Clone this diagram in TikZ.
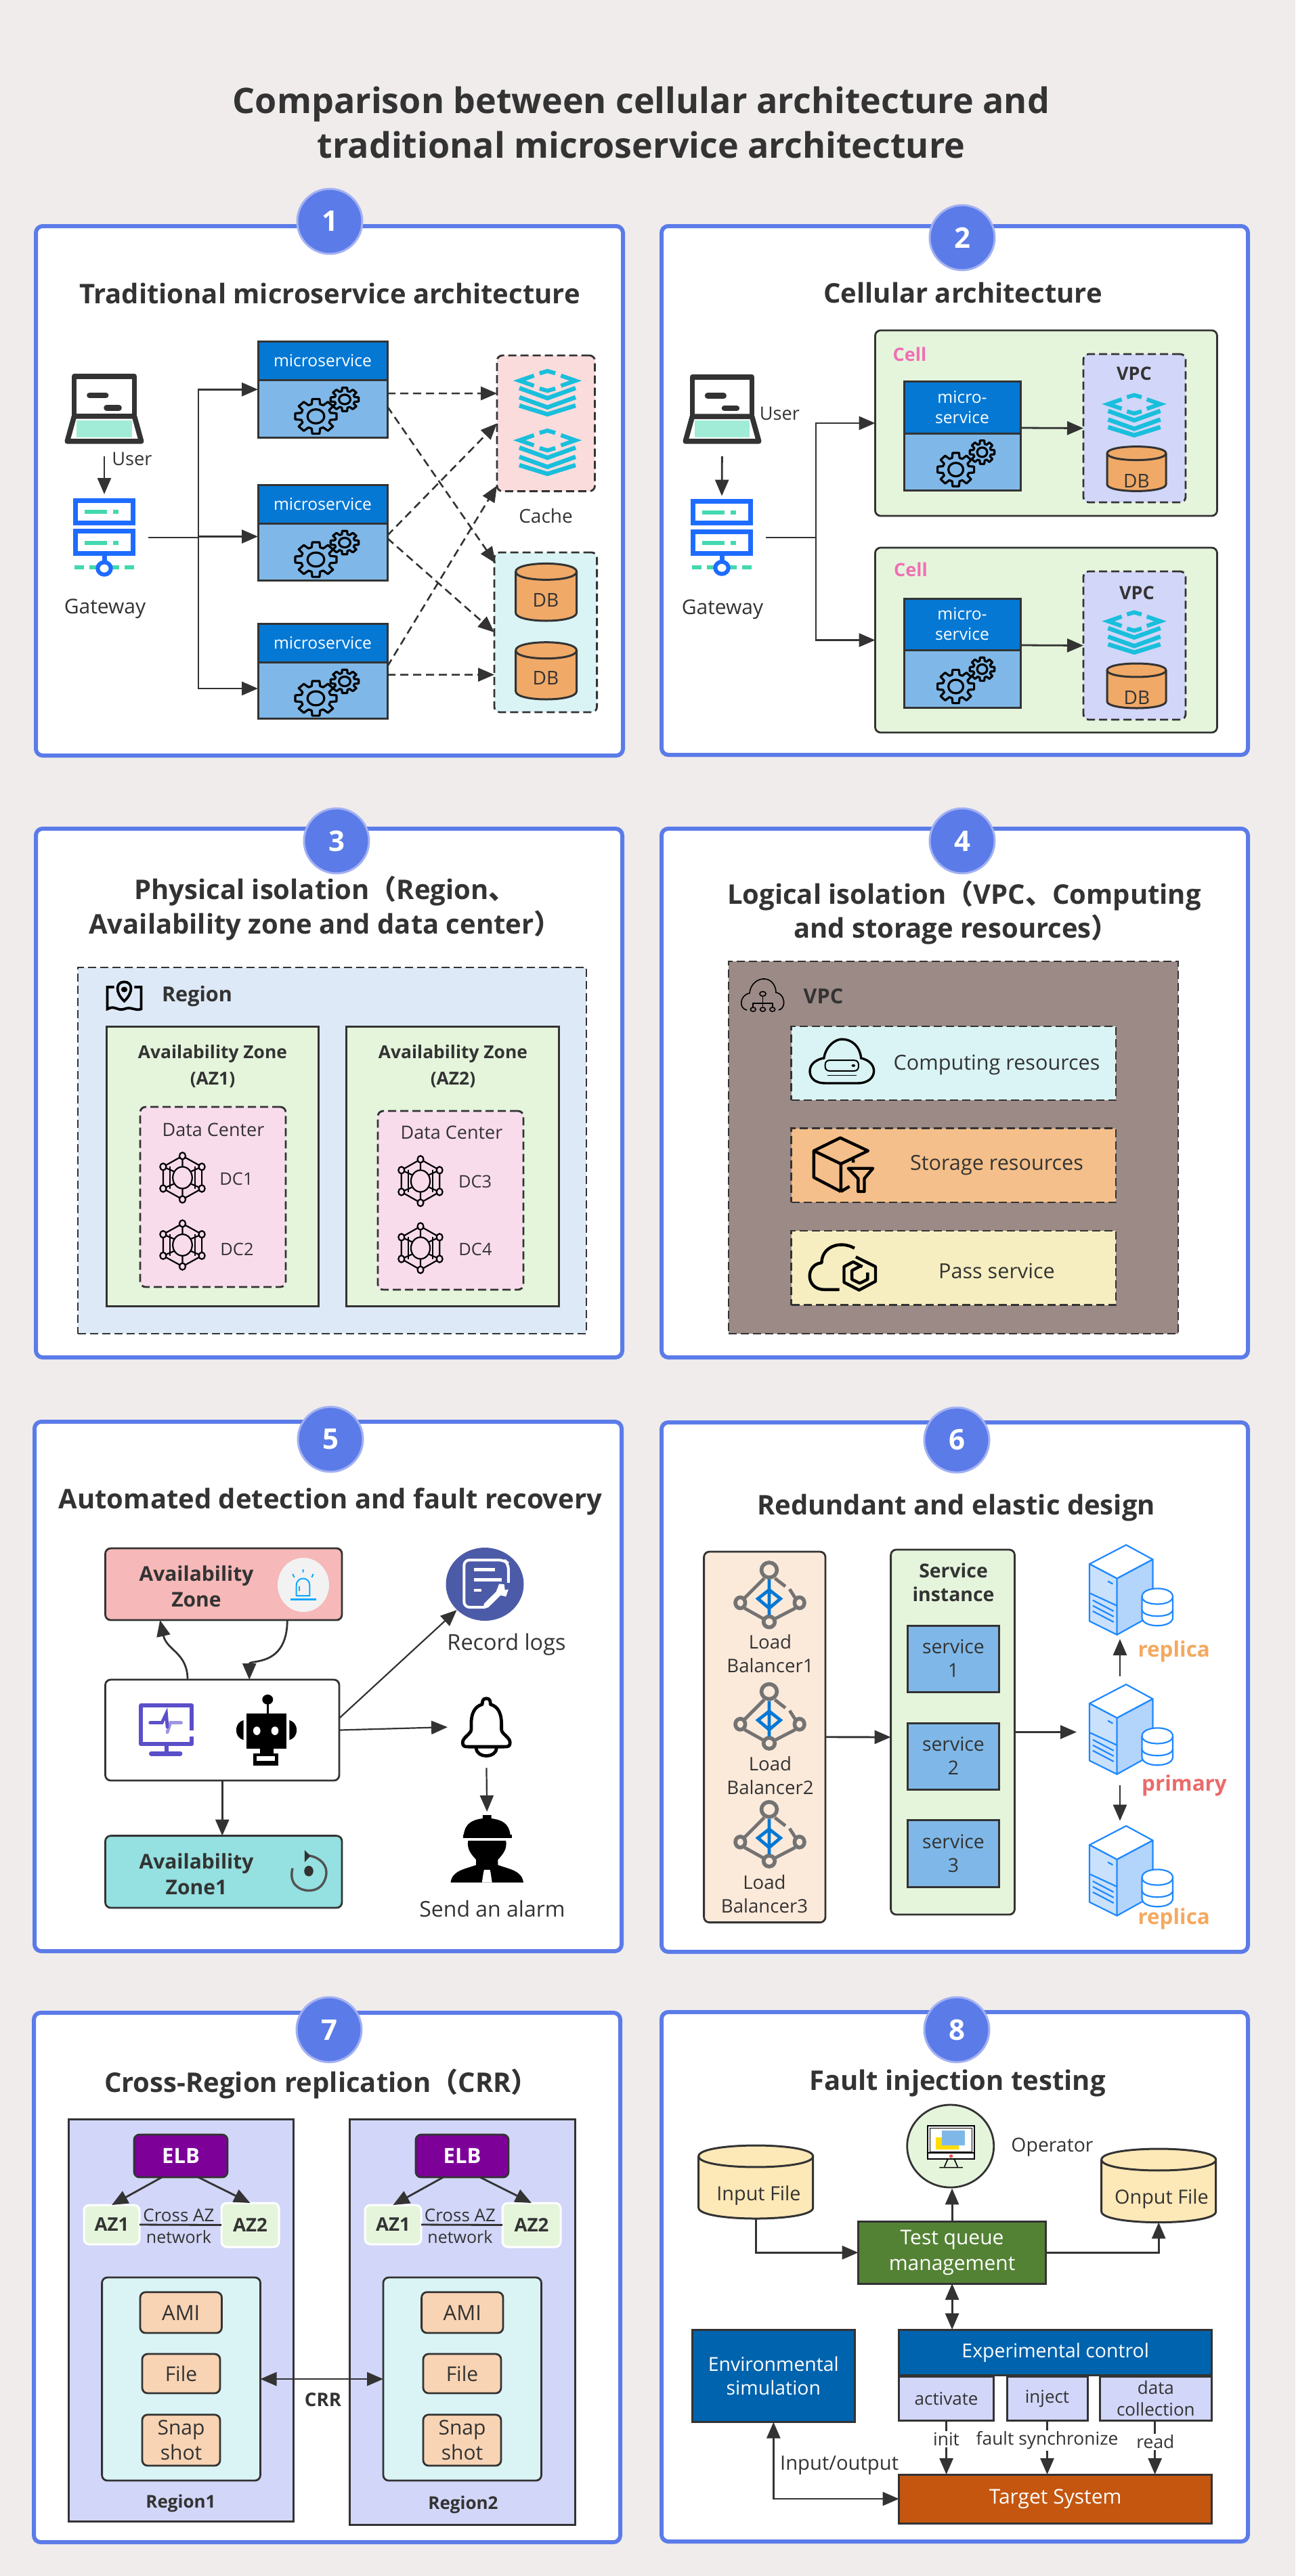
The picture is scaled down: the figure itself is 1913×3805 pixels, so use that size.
\documentclass[tikz,border=0pt]{standalone}
\usepackage{fontspec}
\setmainfont{Open Sans}
\newfontfamily\cjkfont{Noto Sans CJK SC}
\usetikzlibrary{arrows.meta,shapes.geometric,calc}
\definecolor{bgc}{HTML}{EFECEB}
\definecolor{framec}{HTML}{5B7BE8}
\definecolor{badgeedge}{HTML}{A3B1F2}
\definecolor{ink}{HTML}{333333}
\definecolor{hdrc}{HTML}{0578D4}
\definecolor{bodyc}{HTML}{7FB8E8}
\definecolor{cachec}{HTML}{FADCDC}
\definecolor{tealc}{HTML}{DAF4F5}
\definecolor{dbc}{HTML}{F0A967}
\definecolor{greenc}{HTML}{E5F5DC}
\definecolor{lavc}{HTML}{D2D6F8}
\definecolor{regionc}{HTML}{DDE9F6}
\definecolor{dcc}{HTML}{F9DCEC}
\definecolor{vpcc}{HTML}{9C8A86}
\definecolor{storc}{HTML}{F4BF8A}
\definecolor{passc}{HTML}{F6EEC0}
\definecolor{pinkc}{HTML}{EF6FB5}
\definecolor{azred}{HTML}{F6B8B8}
\definecolor{azteal}{HTML}{95E0E0}
\definecolor{logc}{HTML}{4C5BA8}
\definecolor{lbbg}{HTML}{FBE9DA}
\definecolor{orangec}{HTML}{F4A960}
\definecolor{redc}{HTML}{EA6B6B}
\definecolor{elbc}{HTML}{7D0099}
\definecolor{peach}{HTML}{F8D4B4}
\definecolor{filec}{HTML}{FDE8B7}
\definecolor{tqc}{HTML}{548235}
\definecolor{envc}{HTML}{0063AD}
\definecolor{tgtc}{HTML}{C4560F}
\definecolor{cyanc}{HTML}{19BFDC}
\definecolor{gwblue}{HTML}{1E6CFF}
\definecolor{gwgreen}{HTML}{43D9B0}
\definecolor{purplec}{HTML}{5B4FC9}
\definecolor{srvblue}{HTML}{1E88FF}
\definecolor{srvfill}{HTML}{B3D4FB}
\newcounter{tn}
\tikzset{
 panel/.style={draw=framec,line width=3pt,fill=white,rounded corners=5pt},
 badge/.style={circle,draw=badgeedge,line width=1.5pt,fill=framec,text=white},
 f/.style n args={2}{font=\fontsize{#1}{#2}\selectfont},
 fb/.style n args={2}{font=\fontsize{#1}{#2}\selectfont\bfseries},
 sbox/.style={draw=ink,line width=1.5pt},
 dbox/.style={draw=ink,line width=1.4pt,dash pattern=on 6pt off 3pt},
 rbox/.style={draw=ink,line width=1.4pt,rounded corners=4pt},
 arr/.style={-{Triangle[length=12pt,width=10pt]},line width=1.4pt,draw=ink},
 dbl/.style={{Triangle[length=12pt,width=10pt]}-{Triangle[length=12pt,width=10pt]},line width=1.4pt,draw=ink},
 darr/.style={-{Triangle[length=12pt,width=10pt]},line width=1.3pt,draw=ink,dash pattern=on 6pt off 3.5pt},
 wire/.style={line width=1.4pt,draw=ink},
 gearl/.style={draw=black,line width=1.6pt,line join=round},
 ic/.style n args={4}{shift={(#1,#2)},xscale={(#3-#1)/100},yscale={(#4-#2)/100}},
}
\newcommand\bx[7]{%
 \pgfmathsetmacro\bxW{(#5-#3)*0.5}\pgfmathsetmacro\bxH{(#6-#4)*0.5}%
 \pgfmathsetmacro\bxX{(#3+#5)/2}\pgfmathsetmacro\bxY{(#4+#6)/2}%
 \node[minimum width=\bxW pt,minimum height=\bxH pt,inner sep=0pt,outer sep=0pt,align=center,text=ink,#2] (#1) at (\bxX,\bxY) {#7};}
\newcommand\tx[4]{\stepcounter{tn}\node[inner sep=0pt,align=center,text=ink,#1] (t\arabic{tn}) at (#2,#3) {#4};}
\newcommand\gear[4]{\begin{scope}[shift={(#1,#2)},xscale=#3,yscale=#4]
 \draw[gearl] (-16:.72) \foreach \a in {0,45,...,315}{ -- ({\a-16}:.72) -- ({\a-10}:1) -- ({\a+10}:1) -- ({\a+16}:.72)} -- cycle;
 \draw[gearl] (0,0) circle[radius=.4];
 \end{scope}}
\newcommand\cyl[7]{% name x1 y1 x2 y2 e fill
 \bx{#1}{}{#2}{#3}{#4}{#5}{}
 \draw[draw=ink,line width=1.5pt,fill=#7] (#2,{#3+#6}) -- (#2,{#5-#6}) .. controls (#2,{#5+#6/3}) and (#4,{#5+#6/3}) .. (#4,{#5-#6}) -- (#4,{#3+#6}) .. controls (#4,{#3-#6/3}) and (#2,{#3-#6/3}) .. (#2,{#3+#6}) -- cycle;
 \draw[draw=ink,line width=1.5pt] (#2,{#3+#6}) .. controls (#2,{#3+#6*2.33}) and (#4,{#3+#6*2.33}) .. (#4,{#3+#6});}
\newcommand\icLaptop[4]{\begin{scope}[ic={#1}{#2}{#3}{#4}]
 \fill[gwgreen!50] (14,66) rectangle (86,90);
 \draw[draw=ink,line width=3.8pt,line join=round] (11,60) -- (11,3) -- (89,3) -- (89,60);
 \draw[draw=ink,line width=3.8pt,line join=round] (11,60) -- (2,96) -- (98,96) -- (89,60) -- cycle;
 \draw[draw=ink,line width=4.2pt,line cap=round] (31,30) -- (52,30);
 \draw[draw=ink,line width=4.2pt,line cap=round] (53,48) -- (69,48);
 \end{scope}}
\newcommand\icGate[4]{\begin{scope}[ic={#1}{#2}{#3}{#4}]
 \draw[gwgreen,line width=3pt] (0,89) -- (16,89) (25,89) -- (75,89) (84,89) -- (100,89);
 \draw[gwblue,line width=3.5pt] (2,2) rectangle (98,31) (2,42) rectangle (98,71);
 \draw[gwgreen,line width=3pt] (17,17) -- (55,17) (65,17) -- (74,17) (17,57) -- (55,57) (65,57) -- (74,57);
 \draw[gwblue,line width=3.5pt] (50,71) -- (50,82);
 \draw[gwblue,line width=3pt,fill=white] (50,90) ellipse[x radius=11,y radius=8];
 \end{scope}}
\newcommand\icRedis[4]{\begin{scope}[ic={#1}{#2}{#3}{#4}]
 \draw[cyanc,line width=3.2pt,line join=miter] (0,40) -- (50,62) -- (100,40);
 \draw[cyanc,line width=3.2pt] (0,60) -- (50,82) -- (100,60);
 \draw[cyanc,line width=3.2pt] (0,78) -- (50,97) -- (100,78);
 \draw[cyanc,line width=3pt] (36,8) -- (50,3) -- (64,8);
 \draw[cyanc,line width=3pt] (74,13) -- (100,24) -- (74,35);
 \draw[cyanc,line width=3pt] (64,41) -- (50,46) -- (36,41);
 \draw[cyanc,line width=3pt] (26,35) -- (0,24) -- (26,13);
 \end{scope}}
\newcommand\icHex[4]{\begin{scope}[ic={#1}{#2}{#3}{#4},line width=1.1pt,draw=black]
 \draw (50,6) -- (94,28) -- (94,72) -- (50,94) -- (6,72) -- (6,28) -- cycle;
 \draw (50,6) -- (50,30) (50,70) -- (50,94) (94,28) -- (68,38) (94,72) -- (68,62) (6,28) -- (32,38) (6,72) -- (32,62);
 \draw (22,28) -- (22,72) (78,28) -- (78,72);
 \draw[fill=dcc] (50,50) circle[radius=22];
 \foreach \p in {(50,6),(94,28),(94,72),(50,94),(6,72),(6,28)}{\draw[fill=dcc] \p circle[radius=7];}
 \end{scope}}
\newcommand\icCloudPath{(25,100) .. controls (5,100) and (0,85) .. (0,72) .. controls (0,55) and (12,45) .. (22,43) .. controls (25,15) and (40,0) .. (50,0) .. controls (65,0) and (78,15) .. (80,43) .. controls (92,47) and (100,58) .. (100,72) .. controls (100,88) and (90,100) .. (75,100) -- cycle}
\newcommand\icMap[4]{\begin{scope}[ic={#1}{#2}{#3}{#4},line width=1.9pt,draw=black]
 \draw (22,20) -- (3,20) -- (3,92) .. controls (25,78) and (30,100) .. (50,92) .. controls (70,82) and (80,100) .. (97,92) -- (97,20) -- (78,20);
 \draw (50,66) .. controls (24,38) and (26,3) .. (50,3) .. controls (74,3) and (76,38) .. (50,66) -- cycle;
 \fill[black] (50,28) circle[radius=9];
 \end{scope}}
\newcommand\icVpcCloud[4]{\begin{scope}[ic={#1}{#2}{#3}{#4},line width=.8pt,draw=black]
 \draw (14,94) .. controls (-5,90) and (-3,50) .. (20,44) .. controls (22,15) and (40,0) .. (55,2) .. controls (72,4) and (80,25) .. (80,42) .. controls (100,45) and (105,88) .. (86,94);
 \draw (50,52) -- (50,72) (28,88) -- (28,74) -- (72,74) -- (72,88) (50,74) -- (50,88);
 \draw (50,46) circle[radius=7] (28,92) circle[radius=6] (50,92) circle[radius=6] (72,92) circle[radius=6];
 \end{scope}}
\newcommand\icComp[4]{\begin{scope}[ic={#1}{#2}{#3}{#4},draw=black]
 \draw[line width=1.7pt] \icCloudPath;
 \draw[line width=1pt,rounded corners=3pt] (24,48) rectangle (76,72);
 \fill[black] (68,60) circle[radius=3];
 \draw[line width=.8pt] (27,82) -- (73,82);
 \end{scope}}
\newcommand\icStor[4]{\begin{scope}[ic={#1}{#2}{#3}{#4},draw=black,line width=2.2pt,line join=round]
 \draw (45,2) -- (90,25) -- (46,48) -- (2,25) -- cycle;
 \draw (2,25) -- (2,72) -- (46,97) (46,48) -- (46,97) (46,97) -- (60,88) (66,40) -- (66,46);
 \draw (58,56) -- (98,56) -- (84,74) -- (84,97) -- (74,97) -- (74,74) -- cycle;
 \end{scope}}
\newcommand\icPass[4]{\begin{scope}[ic={#1}{#2}{#3}{#4},draw=black,line width=2.2pt,line join=round]
 \draw (45,97) -- (22,97) .. controls (-7,97) and (-7,45) .. (18,42) .. controls (18,10) and (45,-5) .. (68,12);
 \draw (70,30) -- (100,50) -- (100,80) -- (75,98) -- (52,82) -- (52,50) -- (66,40) -- (80,50);
 \draw (78,48) -- (64,58) -- (64,76) -- (76,84) -- (88,76) -- (88,62);
 \end{scope}}
\newcommand\icMon[4]{\begin{scope}[ic={#1}{#2}{#3}{#4}]
 \draw[purplec,line width=3pt,line join=round] (98,52) -- (98,5) -- (3,5) -- (3,77) -- (98,77) -- (98,63);
 \draw[purplec,line width=3pt] (50,77) -- (50,91);
 \draw[purplec,line width=3.4pt,line cap=round] (22,95) -- (76,95);
 \draw[purplec!60,line width=2.4pt,line cap=round] (52,55) -- (58,37) -- (78,37);
 \draw[purplec,line width=2.4pt,line cap=round] (20,37) -- (42,37) -- (50,20) -- (52,45);
 \end{scope}}
\newcommand\icRobot[4]{\begin{scope}[ic={#1}{#2}{#3}{#4}]
 \fill[black] (52,7) ellipse[x radius=9,y radius=7];
 \fill[black] (50.5,12) rectangle (53.5,27);
 \fill[black] (17,27) rectangle (83,76);
 \fill[black] (0,50) .. controls (0,42) and (5,38) .. (12,36) -- (12,64) .. controls (5,62) and (0,58) .. (0,50) -- cycle;
 \fill[black] (100,50) .. controls (100,42) and (95,38) .. (88,36) -- (88,64) .. controls (95,62) and (100,58) .. (100,50) -- cycle;
 \fill[white] (34,51) ellipse[x radius=6,y radius=6] (64,51) ellipse[x radius=6,y radius=6];
 \fill[black] (39,76) rectangle (62,83);
 \fill[black] (28,83) rectangle (70,100);
 \fill[white] (34,87) rectangle (64,93);
 \end{scope}}
\newcommand\icBell[4]{\begin{scope}[ic={#1}{#2}{#3}{#4},draw=black,line width=2.4pt,line join=round]
 \draw (30,86) .. controls (30,104) and (70,104) .. (70,86);
 \draw (50,2) .. controls (42,2) and (42,8) .. (42,12) .. controls (25,16) and (20,30) .. (20,45) -- (20,55) .. controls (20,62) and (3,68) .. (3,77) .. controls (3,84) and (8,84) .. (15,84) -- (85,84) .. controls (92,84) and (97,84) .. (97,77) .. controls (97,68) and (80,62) .. (80,55) -- (80,45) .. controls (80,30) and (75,16) .. (58,12) .. controls (58,8) and (58,2) .. (50,2) -- cycle;
 \end{scope}}
\newcommand\icWorker[4]{\begin{scope}[ic={#1}{#2}{#3}{#4}]
 \fill[black] (18,29) .. controls (20,12) and (30,7) .. (44,5) -- (44,0) -- (56,0) -- (56,5) .. controls (70,7) and (80,12) .. (82,29) -- cycle;
 \fill[black] (17,29) rectangle (84,34);
 \fill[black] (24,38) -- (76,38) .. controls (78,50) and (72,58) .. (65,66) -- (65,74) .. controls (80,80) and (98,82) .. (100,100) -- (0,100) .. controls (2,82) and (20,80) .. (35,74) -- (35,66) .. controls (28,58) and (22,50) .. (24,38) -- cycle;
 \fill[white] (46,81) -- (54,81) -- (55,86) -- (57,100) -- (43,100) -- (45,86) -- cycle;
 \end{scope}}
\newcommand\icAlarm[4]{\begin{scope}[ic={#1}{#2}{#3}{#4},draw=gwblue!60!cyan,line width=1pt]
 \draw (24,85) -- (24,52) .. controls (24,22) and (76,22) .. (76,52) -- (76,85) -- cycle;
 \draw[line width=1.3pt] (0,97) -- (100,97);
 \draw (50,0) -- (50,10) (10,15) -- (16,26) (90,15) -- (84,26);
 \draw (36,70) -- (36,55);
 \end{scope}}
\newcommand\icRecov[4]{\begin{scope}[ic={#1}{#2}{#3}{#4}]
 \draw[draw=ink!85,line width=1.7pt] (4,45) .. controls (-8,85) and (25,100) .. (50,100) .. controls (90,100) and (100,70) .. (100,55) .. controls (100,30) and (70,15) .. (48,14);
 \fill[ink] (38,0) -- (38,30) -- (55,15) -- cycle;
 \fill[ink] (50,52) circle[radius=13];
 \end{scope}}
\newcommand\icLog[4]{\begin{scope}[ic={#1}{#2}{#3}{#4},draw=white]
 \draw[line width=2pt,rounded corners=4pt] (50,96) -- (6,96) -- (6,3) -- (88,3) -- (97,10) -- (97,52);
 \draw[line width=2.2pt] (26,22) -- (70,22) (26,42) -- (84,42) (26,63) -- (42,63);
 \draw[line width=4.2pt,line cap=round] (52,92) -- (86,60);
 \fill[white] (78,50) -- (100,52) -- (92,75) -- (70,70) -- cycle;
 \fill[logc] (88,48) -- (100,48) -- (100,60) -- (90,62) -- cycle;
 \end{scope}}
\newcommand\icLB[4]{\begin{scope}[ic={#1}{#2}{#3}{#4}]
 \draw[draw=gray!90!black,line width=2.4pt] (42,26) -- (14,55) (57,26) -- (72,38) (78,42) -- (86,55) (14,70) -- (40,85) (86,70) -- (58,85);
 \draw[draw=gray!90!black,line width=2.8pt,fill=lbbg] (49,14) ellipse[x radius=11,y radius=11] (8,62) ellipse[x radius=7,y radius=8] (92,62) ellipse[x radius=7,y radius=8] (49,90) ellipse[x radius=8,y radius=8];
 \draw[draw=hdrc,line width=2.4pt] (49,28) -- (49,80) (49,43) -- (65,56) -- (49,70) -- (33,56) -- cycle;
 \end{scope}}
\newcommand\icServer[4]{\begin{scope}[ic={#1}{#2}{#3}{#4},draw=srvblue,line width=1.1pt,line join=round]
 \draw[fill=white] (44,0) -- (76,16) -- (33,37) -- (0,21) -- cycle;
 \draw[fill=srvfill!70] (0,21) -- (33,37) -- (33,99) -- (0,84) -- cycle;
 \draw[fill=srvfill] (33,37) -- (76,16) -- (76,77) -- (33,99) -- cycle;
 \draw (0,53) -- (33,67) (4,61) -- (29,73) (4,67) -- (29,79) (4,73) -- (29,85) (22,40) -- (28,43);
 \draw[fill=white] (63,57) -- (63,80) .. controls (63,92) and (100,92) .. (100,80) -- (100,57) .. controls (100,45) and (63,45) .. (63,57) -- cycle;
 \draw (63,57) .. controls (63,68) and (100,68) .. (100,57);
 \draw (63,71) .. controls (63,81) and (100,81) .. (100,71);
 \end{scope}}
\newcommand\icOp[4]{\begin{scope}[ic={#1}{#2}{#3}{#4},draw=black]
 \fill[white] (0,2) rectangle (100,78);
 \fill[yellow!80!orange] (18,28) rectangle (66,56);
 \fill[bodyc] (30,12) rectangle (80,46);
 \draw[line width=1pt,fill=none] (0,2) rectangle (100,78);
 \draw[line width=.5pt] (5,7) rectangle (95,62);
 \draw[line width=.8pt] (0,64) -- (100,64);
 \fill[red!70] (50,71) circle[radius=4];
 \draw[line width=.8pt] (43,78) -- (36,95) (57,78) -- (64,95) (25,97) -- (75,97);
 \end{scope}}
\newcommand\microbox[6]{% name x1 y1 x2 ysplit y2 
 \bx{#1}{sbox,fill=bodyc}{#2}{#3}{#4}{#6}{}
 \bx{#1h}{sbox,fill=hdrc,text=white,f={12.3}{15}}{#2}{#3}{#4}{#5}{\ifnum#2<1000 microservice\else micro-\\service\fi}
}
\begin{document}
\begin{tikzpicture}[x=0.5pt,y=-0.5pt]
\useasboundingbox (0,0) rectangle (1913,3805);
\fill[bgc] (0,0) rectangle (1913,3805);
\tx{fb={26}{33}}{947}{181}{Comparison between cellular architecture and\\traditional microservice architecture}
% ---------- frames
\bx{p1}{panel}{53}{334}{920}{1116}{}
\bx{p2}{panel}{977}{334}{1843}{1115}{}
\bx{p3}{panel}{53}{1224}{919}{2005}{}
\bx{p4}{panel}{977}{1224}{1843}{2005}{}
\bx{p5}{panel}{51}{2100}{918}{2882}{}
\bx{p6}{panel}{977}{2101}{1843}{2883}{}
\bx{p7}{panel}{50}{2973}{916}{3755}{}
\bx{p8}{panel}{977}{2972}{1843}{3754}{}
\foreach \n/\x/\y/\s in {1/487/327/1,2/1421/351/2,3/497/1242/3,4/1421/1242/4,5/488/2126/5,6/1413/2127/6,7/486/2998/7,8/1413/2998/8}{
 \node[badge,minimum size=48pt,inner sep=0pt,fb={21}{24}] (b\n) at (\x,\y) {\s};
}
% ---------- panel 1
\tx{fb={20}{24}}{487}{433}{Traditional microservice architecture}
\bx{lap1}{}{97}{553}{211}{656}{}\icLaptop{97}{553}{211}{656}
\tx{f={13.6}{16}}{195}{678}{User}
\bx{gw1}{}{110}{737}{198}{851}{}\icGate{110}{737}{198}{851}
\tx{f={15}{18}}{155}{899}{Gateway}
\draw[arr,shorten <=9pt,shorten >=3.5pt] (lap1.south) -- (gw1.north);
\microbox{m1}{381}{504.5}{572}{561}{646}
\microbox{m2}{381}{716}{572}{773}{857}
\microbox{m3}{381}{921}{572}{978}{1061.6}
\foreach \n/\y in {1/504.5,2/716,3/921}{
 \gear{466.5}{\y+110.5}{31}{26}
 \gear{509}{\y+85.5}{21}{17.6}
}
\bx{cache}{dbox,fill=cachec,rounded corners=4pt}{734}{525}{878.5}{725.6}{}
\icRedis{767}{546}{850}{614}
\icRedis{767}{634}{850}{702}
\tx{f={14}{17}}{806}{761.5}{Cache}
\bx{dbbox}{dbox,fill=tealc,rounded corners=4pt}{730}{816}{881.6}{1052}{}
\cyl{d1a}{761.6}{832.4}{851.6}{917}{12}{dbc}
\cyl{d1b}{761.6}{948.7}{851.6}{1033}{12}{dbc}
\tx{f={14}{17}}{806}{886.5}{DB}
\tx{f={14}{17}}{806}{1001.4}{DB}
\coordinate (j1) at (293,794);
\draw[wire,shorten <=10.5pt] (gw1.east) -- (j1);
\draw[arr] (j1) |- (m1.west);
\draw[arr] (j1) |- ([yshift=-3pt]m2.west);
\draw[arr] (j1) |- ([yshift=-12.85pt]m3.west);
\draw[darr] ([yshift=-2.9pt]m1.east) -- ([yshift=22.1pt]cache.west);
\draw[darr] ([yshift=-12.6pt]m1.east) -- ([yshift=51pt,xshift=1pt]dbbox.west);
\draw[darr] ([yshift=-2.25pt]m2.east) -- (cache.west);
\draw[darr] ([yshift=-4.25pt]m2.east) -- (dbbox.west);
\draw[darr] ([yshift=3.4pt]m3.east) -- ([yshift=-46pt]cache.west);
\draw[darr] ([yshift=-2.7pt]m3.east) -- ([yshift=-31.3pt]dbbox.west);
% ---------- panel 2
\tx{fb={20}{24}}{1422}{432}{Cellular architecture}
\bx{lap2}{}{1010}{554}{1123}{656}{}\icLaptop{1010}{554}{1123}{656}
\tx{f={13.6}{16}}{1151.5}{611}{User}
\bx{gw2}{}{1022}{738}{1110}{850}{}\icGate{1022}{738}{1110}{850}
\tx{f={15}{18}}{1067}{900}{Gateway}
\draw[arr,shorten <=9pt,shorten >=2.7pt] (lap2.south) -- (gw2.north);
\bx{cell1}{rbox,fill=greenc}{1292.5}{488}{1797.5}{762}{}
\bx{cell2}{rbox,fill=greenc}{1292.5}{809}{1797.5}{1082}{}
\tx{fb={13.5}{16},text=pinkc}{1343.5}{523.5}{Cell}
\tx{fb={13.5}{16},text=pinkc}{1345}{841.7}{Cell}
\microbox{mc1}{1335}{563.6}{1507}{640}{724}
\microbox{mc2}{1335}{884}{1507}{960}{1045}
\gear{1411.6}{693.6}{27.4}{25}\gear{1450.5}{668}{18.5}{17.5}
\gear{1411.6}{1014}{27.4}{25}\gear{1450.5}{988.4}{18.5}{17.5}
\bx{vpc1}{dbox,fill=lavc,rounded corners=4pt}{1600}{523}{1751}{742}{}
\bx{vpc2}{dbox,fill=lavc,rounded corners=4pt}{1600}{844}{1751}{1063}{}
\tx{fb={13.5}{16}}{1675}{552}{VPC}
\tx{fb={13.5}{16}}{1679}{876}{VPC}
\icRedis{1636.5}{581.7}{1713.7}{644.8}
\icRedis{1636.5}{902.5}{1713.7}{965.6}
\cyl{d2a}{1635}{659.6}{1722}{725.4}{10}{dbc}
\cyl{d2b}{1635}{980}{1722}{1046}{10}{dbc}
\tx{f={14}{17}}{1678.4}{710.6}{DB}
\tx{f={14}{17}}{1679}{1030}{DB}
\coordinate (j2) at (1205,794);
\draw[wire,shorten <=10.5pt] (gw2.east) -- (j2);
\draw[arr] (j2) |- (cell1.west);
\draw[arr] (j2) |- (cell2.west);
\draw[arr] ([yshift=5.9pt]mc1.east) -- (vpc1.west);
\draw[arr] ([yshift=5.75pt]mc2.east) -- (vpc2.west);
% ---------- panel 3
\tx{fb={20}{25.5}}{480}{1342}{Physical isolation{\cjkfont（}Region{\cjkfont 、}\\Availability zone and data center{\cjkfont ）}}
\bx{region}{dbox,fill=regionc}{115}{1429}{866}{1970}{}
\icMap{157}{1449}{210}{1494}
\tx{fb={15.3}{18}}{291}{1472}{Region}
\bx{az1}{sbox,fill=greenc}{157}{1516}{470}{1929}{}
\bx{az2}{sbox,fill=greenc}{511}{1516}{825}{1929}{}
\tx{fb={13.2}{19.5}}{314}{1575.5}{Availability Zone\\(AZ1)}
\tx{fb={13.2}{19.5}}{669}{1575.5}{Availability Zone\\(AZ2)}
\bx{dc1}{dbox,fill=dcc,rounded corners=4pt}{207}{1635}{422}{1901}{}
\bx{dc2}{dbox,fill=dcc,rounded corners=4pt}{558}{1641}{773}{1905}{}
\tx{f={13.5}{16}}{315}{1669}{Data Center}
\tx{f={13.5}{16}}{667}{1673}{Data Center}
\icHex{237}{1703}{302}{1776}
\icHex{237}{1803}{302}{1875}
\icHex{589}{1708}{653}{1781}
\icHex{589}{1807}{653}{1880}
\tx{f={12.7}{15}}{349}{1741.7}{DC1}
\tx{f={12.7}{15}}{350}{1845}{DC2}
\tx{f={12.7}{15}}{701.6}{1745.5}{DC3}
\tx{f={12.7}{15}}{702}{1845}{DC4}
% ---------- panel 4
\tx{fb={20}{25}}{1424}{1322.6}{Logical isolation{\cjkfont（}VPC{\cjkfont 、}Computing}
\tx{fb={20}{25}}{1412}{1373}{and storage resources{\cjkfont ）}}
\bx{vpcbig}{dbox,fill=vpcc}{1076}{1420}{1740}{1970}{}
\icVpcCloud{1094}{1445}{1159}{1495}
\tx{fb={15.3}{18}}{1216}{1472}{VPC}
\bx{comp}{dbox,fill=tealc}{1168.5}{1516}{1648}{1625}{}
\bx{stor}{dbox,fill=storc}{1168.5}{1666.5}{1648}{1776}{}
\bx{pass}{dbox,fill=passc}{1168.5}{1818}{1648}{1927.6}{}
\icComp{1196}{1535}{1290.6}{1600}
\icStor{1200}{1679}{1291}{1762.5}
\icPass{1196}{1835}{1293}{1907}
\tx{f={15.3}{18}}{1472}{1573}{Computing resources}
\tx{f={15.3}{18}}{1472}{1721}{Storage resources}
\tx{f={15.3}{18}}{1472}{1877.7}{Pass service}
% ---------- panel 5
\tx{fb={20}{24}}{488}{2217.7}{Automated detection and fault recovery}
\bx{azr}{rbox,fill=azred}{155.5}{2287}{505}{2393}{}
\tx{fb={15}{19}}{290}{2343}{Availability\\Zone}
\node[ellipse,fill=white!90!gray,minimum width=38pt,minimum height=40pt,inner sep=0pt] (alarmbg) at (448,2341) {};
\icAlarm{428.5}{2318}{466.5}{2364}
\bx{midb}{rbox,fill=white}{155.5}{2481}{501}{2630}{}
\icMon{206}{2515.5}{285}{2594}
\icRobot{349}{2503}{438}{2608}
\bx{azt}{rbox,fill=azteal}{155.5}{2711.6}{505}{2818}{}
\tx{fb={15}{19}}{290}{2768}{Availability\\Zone1}
\icRecov{430}{2732.5}{482}{2792.5}
\node[ellipse,fill=logc,minimum width=57.5pt,minimum height=54pt,inner sep=0pt] (logn) at (716,2340) {};
\icLog{681}{2302}{753}{2377}
\tx{f={16.2}{19}}{748}{2429}{Record logs}
\bx{bell}{}{681}{2507}{755.5}{2594}{}\icBell{681}{2507}{755.5}{2594}
\bx{wkr}{}{665.5}{2681}{773}{2780.7}{}\icWorker{665.5}{2681}{773}{2780.7}
\tx{f={16}{19}}{727}{2819}{Send an alarm}
\draw[arr] ([xshift=-25.6pt]midb.north) .. controls +(0,-40) and +(10,45) .. ([xshift=-47pt]azr.south);
\draw[arr] ([xshift=47pt]azr.south) .. controls +(0,70) and +(0,-30) .. ([xshift=20pt]midb.north);
\draw[arr] (midb.south) -- (midb.south |- azt.north);
\draw[arr,line width=1.1pt] ([yshift=8.75pt]midb.east) -- (logn);
\draw[arr,line width=1.1pt,shorten >=10pt] (midb.east) -- (bell.west);
\draw[arr,line width=1.1pt,shorten <=8.7pt,shorten >=2.5pt] (bell.south) -- (wkr.north);
% ---------- panel 6
\tx{fb={20}{24}}{1412}{2227}{Redundant and elastic design}
\bx{lb}{rbox,fill=lbbg}{1039.6}{2292}{1219}{2839.6}{}
\icLB{1085}{2305}{1189}{2405.7}
\icLB{1085}{2484.5}{1189}{2585}
\icLB{1085}{2658.6}{1189}{2759}
\tx{f={13.8}{17.5}}{1137.5}{2442.5}{Load\\Balancer1}
\tx{f={13.8}{17.5}}{1137.5}{2622.5}{Load\\Balancer2}
\tx{f={13.8}{17.5}}{1129}{2797.5}{Load\\Balancer3}
\bx{svc}{rbox,fill=greenc}{1315.6}{2289}{1498.5}{2828}{}
\tx{fb={14.2}{17.5}}{1408}{2337.7}{Service\\instance}
\bx{s1}{sbox,fill=bodyc,f={14.2}{17.5}}{1340.5}{2401}{1475.4}{2499}{service\\1}
\bx{s2}{sbox,fill=bodyc,f={14.2}{17.5}}{1340.5}{2545}{1475.4}{2643}{service\\2}
\bx{s3}{sbox,fill=bodyc,f={14.2}{17.5}}{1340.5}{2688.6}{1475.4}{2787}{service\\3}
\bx{rep1}{}{1609}{2282}{1732}{2416}{}\icServer{1609}{2282}{1732}{2416}
\bx{pri}{}{1609}{2488}{1732}{2622}{}\icServer{1609}{2488}{1732}{2622}
\bx{rep2}{}{1609}{2697}{1732}{2831}{}\icServer{1609}{2697}{1732}{2831}
\tx{fb={15.7}{18},text=orangec}{1733.7}{2439}{replica}
\tx{fb={15.7}{18},text=redc}{1749}{2637}{primary}
\tx{fb={15.7}{18},text=orangec}{1733.7}{2834}{replica}
\draw[arr] (lb.east) -- ([yshift=-3.7pt]svc.west);
\draw[arr,shorten >=9.5pt] (svc.east) -- ([yshift=-1.7pt]pri.west);
\draw[arr,shorten >=2.5pt] ([xshift=-8.25pt,yshift=6pt]pri.north) -- ([xshift=-8.25pt]rep1.south);
\draw[arr,shorten <=7.5pt,shorten >=3.7pt] ([xshift=-8.25pt]pri.south) -- ([xshift=-8.25pt]rep2.north);
% ---------- panel 7
\tx{fb={20}{24}}{474.5}{3077.6}{Cross-Region replication{\cjkfont（}CRR{\cjkfont ）}}
\bx{reg1}{sbox,fill=lavc}{101}{3130.5}{433.4}{3724}{}
\bx{reg2}{sbox,fill=lavc}{516.7}{3130.5}{849}{3729}{}
\bx{elb1}{rbox,fill=elbc,text=white,fb={15.5}{18}}{198}{3153}{336}{3216}{ELB}
\bx{elb2}{rbox,fill=elbc,text=white,fb={15.5}{18}}{614}{3153}{751}{3216}{ELB}
\bx{a1l}{draw=white,line width=1.5pt,rounded corners=4pt,fill=greenc,fb={13.8}{16}}{124}{3257}{206}{3315}{AZ1}
\bx{a2l}{draw=white,line width=1.5pt,rounded corners=4pt,fill=greenc,fb={13.8}{16}}{327}{3254}{412}{3319}{AZ2}
\bx{a1r}{draw=white,line width=1.5pt,rounded corners=4pt,fill=greenc,fb={13.8}{16}}{539}{3257}{622}{3315}{AZ1}
\bx{a2r}{draw=white,line width=1.5pt,rounded corners=4pt,fill=greenc,fb={13.8}{16}}{742}{3254}{828}{3319}{AZ2}
\draw[wire] (a1l.east) -- (a2l.west);
\draw[wire] (a1r.east) -- (a2r.west);
\tx{f={13}{15}}{264}{3272}{Cross AZ}
\tx{f={12.5}{15}}{264}{3304}{network}
\tx{f={13}{15}}{679.5}{3272}{Cross AZ}
\tx{f={12.5}{15}}{679.5}{3304}{network}
\draw[arr] ([xshift=-14pt]elb1.south) -- (a1l.north);
\draw[arr] ([xshift=13pt]elb1.south) -- (a2l.north);
\draw[arr] ([xshift=-14pt]elb2.south) -- (a1r.north);
\draw[arr] ([xshift=13.25pt]elb2.south) -- (a2r.north);
\bx{teal1}{rbox,fill=tealc}{150.6}{3364}{384.5}{3664}{}
\bx{teal2}{rbox,fill=tealc}{566}{3364}{799.5}{3664}{}
\bx{ami1}{rbox,fill=peach,f={15.5}{18}}{207}{3385.7}{327.5}{3446}{AMI}
\bx{file1}{rbox,fill=peach,f={15}{18}}{210}{3477}{325}{3535}{File}
\bx{snap1}{rbox,fill=peach,f={15}{18.2}}{210}{3566.7}{325}{3642}{Snap\\shot}
\bx{ami2}{rbox,fill=peach,f={15.5}{18}}{622.6}{3385.7}{743}{3446}{AMI}
\bx{file2}{rbox,fill=peach,f={15}{18}}{625}{3477}{740}{3535}{File}
\bx{snap2}{rbox,fill=peach,f={15}{18.2}}{625}{3566.7}{740}{3642}{Snap\\shot}
\tx{fb={13}{16}}{267}{3697.6}{Region1}
\tx{fb={13}{16}}{684}{3700}{Region2}
\draw[dbl] (teal1.east) -- (teal2.west);
\tx{fb={13.8}{16}}{477}{3545}{CRR}
% ---------- panel 8
\tx{fb={20}{24}}{1414}{3077}{Fault injection testing}
\node[ellipse,draw=ink,line width=1.4pt,fill=greenc,minimum width=64pt,minimum height=61pt,inner sep=0pt] (op) at (1403.7,3170) {};
\icOp{1370}{3138.7}{1439}{3203.6}
\tx{f={14.2}{17}}{1554}{3171.4}{Operator}
\cyl{inf}{1031.7}{3169}{1200.7}{3277}{16}{filec}
\cyl{outf}{1626.7}{3174}{1795.7}{3282.6}{16}{filec}
\tx{f={14.4}{17}}{1120.5}{3243}{Input File}
\tx{f={14.4}{17}}{1715.5}{3248}{Onput File}
\bx{tq}{sbox,fill=tqc,text=white,f={15}{19}}{1267.5}{3281.5}{1544.7}{3373}{Test queue\\management}
\bx{env}{sbox,fill=envc,text=white,f={14.2}{17.5}}{1022}{3441}{1262.7}{3577.6}{Environmental\\simulation}
\bx{exp}{sbox,fill=envc,text=white,f={14.2}{17}}{1327.7}{3441}{1789.7}{3508.4}{Experimental control}
\bx{act}{sbox,fill=lavc,f={13}{16}}{1327.7}{3510}{1467.5}{3575.5}{activate}
\bx{inj}{sbox,fill=lavc,f={13}{16}}{1487}{3510}{1606}{3575.5}{inject}
\bx{dat}{sbox,fill=lavc,f={13}{16}}{1624}{3510}{1789.7}{3575.5}{data\\collection}
\bx{tgt}{sbox,fill=tgtc,text=white,f={15}{18}}{1327.7}{3655}{1789.7}{3727}{Target System}
\draw[arr] (inf.south) |- (tq.west);
\draw[arr] (tq.east) -| (outf.south);
\draw[arr] (tq.north) -- (tq.north |- op.south);
\draw[dbl] (tq.south) -- (tq.south |- exp.north);
\draw[arr] (act.south) -- (act.south |- tgt.north);
\draw[arr] (inj.south) -- (inj.south |- tgt.north);
\draw[arr] ([xshift=-0.6pt]dat.south) -- ([xshift=-0.6pt]dat.south |- tgt.north);
\draw[dbl] (env.south) |- (tgt.west);
\tx{f={13.2}{16},fill=white,inner sep=1pt}{1397.6}{3602.7}{init}
\tx{f={13.2}{16},fill=white,inner sep=1pt}{1546.5}{3605}{fault synchronize}
\tx{f={13.2}{16},fill=white,inner sep=1pt}{1706.4}{3607}{read}
\tx{f={14.6}{17}}{1239.6}{3641.4}{Input/output}
\end{tikzpicture}
\end{document}
